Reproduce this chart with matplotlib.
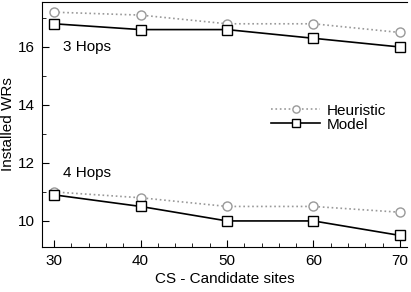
import matplotlib
matplotlib.use("Agg")
import matplotlib.pyplot as plt
from matplotlib.ticker import MultipleLocator

plt.rcParams['font.family'] = ['Liberation Sans', 'DejaVu Sans']

cs = [30, 40, 50, 60, 70]
heur_3 = [17.2, 17.1, 16.8, 16.8, 16.5]
model_3 = [16.8, 16.6, 16.6, 16.3, 16.0]
heur_4 = [11.0, 10.8, 10.5, 10.5, 10.3]
model_4 = [10.9, 10.5, 10.0, 10.0, 9.5]

fig = plt.figure(figsize=(4.11, 2.92), dpi=100)
ax = fig.add_axes([0.102, 0.154, 0.888, 0.839])

hkw = dict(color='#999999', linestyle=':', linewidth=1.2, marker='o', markersize=6.5,
           markerfacecolor='white', markeredgecolor='#999999', markeredgewidth=1.0)
mkw = dict(color='black', linestyle='-', linewidth=1.2, marker='s', markersize=6.5,
           markerfacecolor='white', markeredgecolor='black', markeredgewidth=1.0)

ax.plot(cs, heur_3, label='Heuristic', **hkw)
ax.plot(cs, model_3, label='Model', **mkw)
ax.plot(cs, heur_4, **hkw)
ax.plot(cs, model_4, **mkw)

ax.set_xlim(28.6, 70.8)
ax.set_ylim(9.1, 17.55)
ax.xaxis.set_major_locator(MultipleLocator(10))
ax.xaxis.set_minor_locator(MultipleLocator(2))
ax.yaxis.set_major_locator(MultipleLocator(2))
ax.yaxis.set_minor_locator(MultipleLocator(1))
ax.tick_params(which='both', direction='in', labelsize=11, top=False, right=False)
ax.tick_params(which='major', length=5, pad=5)
ax.tick_params(which='minor', length=3)
ax.spines['right'].set_visible(False)

ax.set_xlabel('CS - Candidate sites', fontsize=11, labelpad=3)
ax.set_ylabel('Installed WRs', fontsize=11, labelpad=2)

ax.text(31.0, 15.75, '3 Hops', fontsize=11, va='bottom')
ax.text(31.0, 11.4, '4 Hops', fontsize=11, va='bottom')

ax.legend(loc='upper left', bbox_to_anchor=(0.612, 0.61), frameon=False, fontsize=11,
          handlelength=3.2, handletextpad=0.4, labelspacing=0.0, borderaxespad=0,
          markerscale=0.8)

fig.savefig('out.png', dpi=100)
